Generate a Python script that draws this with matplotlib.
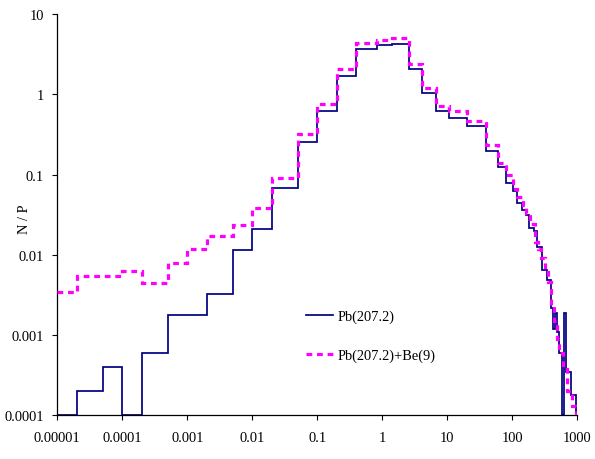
import matplotlib
matplotlib.use("Agg")
import matplotlib.pyplot as plt

# bin edges (x) and N/P values
pb_edges = [1e-5, 2e-5, 5e-5, 1e-4, 2e-4, 5e-4, 1e-3, 2e-3, 5e-3, 0.01, 0.02, 0.05,
            0.1, 0.2, 0.4, 0.82, 1.43, 2.55, 4.12, 6.6, 10.6, 20.4, 40, 61, 81, 103,
            119, 143, 161, 182, 218, 237, 289, 345, 394, 418, 458, 488, 525, 577,
            618, 663, 806, 938, 1000]
pb_vals = [1e-4, 2e-4, 4e-4, 1e-4, 6e-4, 1.8e-3, 1.8e-3, 3.2e-3, 0.0114, 0.021, 0.067,
           0.256, 0.61, 1.69, 3.63, 4.11, 4.27, 2.05, 1.04, 0.61, 0.51, 0.40, 0.194,
           0.123, 0.078, 0.062, 0.044, 0.036, 0.0316, 0.0214, 0.020, 0.0124, 0.0065,
           0.0048, 0.0022, 0.0012, 0.0019, 0.0011, 0.0006, 1e-4, 0.0019, 0.00035,
           0.00018, 1e-4]

pbbe_edges = [1e-5, 2e-5, 5e-5, 1e-4, 2e-4, 5e-4, 1e-3, 2e-3, 5e-3, 0.01, 0.02, 0.05,
              0.1, 0.2, 0.4, 0.82, 1.43, 2.55, 4.12, 6.6, 10.6, 20.4, 40, 61, 81, 103,
              119, 144, 165, 187, 220, 245, 280, 318, 358, 394, 440, 490, 530, 600,
              700, 820, 950, 1000]
pbbe_vals = [0.0034, 0.0054, 0.0055, 0.0062, 0.0045, 0.0079, 0.0118, 0.0173, 0.0235,
             0.038, 0.091, 0.317, 0.75, 2.05, 4.32, 4.74, 4.98, 2.41, 1.21, 0.72, 0.61,
             0.46, 0.233, 0.138, 0.10, 0.066, 0.052, 0.042, 0.033, 0.024, 0.0146,
             0.0118, 0.0091, 0.0067, 0.0046, 0.0023, 0.0015, 0.0009, 0.0006, 0.0004,
             0.0002, 0.00013, 1e-4]

xticks = [1e-5, 1e-4, 1e-3, 1e-2, 1e-1, 1, 10, 100, 1000]
xlabels = ["0.00001", "0.0001", "0.001", "0.01", "0.1", "1", "10", "100", "1000"]
yticks = [1e-4, 1e-3, 1e-2, 1e-1, 1, 10]
ylabels = ["0.0001", "0.001", "0.01", "0.1", "1", "10"]

plt.rcParams["font.family"] = ["Liberation Serif", "DejaVu Serif"]
plt.rcParams["font.size"] = 10.4

fig = plt.figure(figsize=(5.95, 4.6), dpi=100)
ax = fig.add_axes([0.0963, 0.095, 0.874, 0.8724])

ax.stairs(pb_vals, pb_edges, baseline=None, color="#000080", lw=1.25,
          label="Pb(207.2)", zorder=2)
ax.stairs(pbbe_vals, pbbe_edges, baseline=None, color="#ff00ff", lw=2.3,
          linestyle=(0, (1.8, 1.5)), label="Pb(207.2)+Be(9)", zorder=3)

ax.set_xscale("log")
ax.set_yscale("log")
ax.set_xlim(1e-5, 1000)
ax.set_ylim(1e-4, 10)
ax.set_xticks(xticks, xlabels)
ax.set_yticks(yticks, ylabels)
ax.minorticks_off()
ax.tick_params(direction="out", length=3.5, width=0.8, color="black")
ax.tick_params(axis="x", pad=8)
ax.tick_params(axis="y", pad=6)

for s in ["top", "right"]:
    ax.spines[s].set_visible(False)
for s in ["left", "bottom"]:
    ax.spines[s].set_linewidth(0.9)

ax.set_ylabel("N / P")
ax.yaxis.set_label_coords(-0.05, 0.49)

ax.legend(loc="upper left", bbox_to_anchor=(306 / 595, 1 - 311 / 460),
          bbox_transform=fig.transFigure, frameon=False, borderpad=0,
          borderaxespad=0, handlelength=1.9, handletextpad=0.3, labelspacing=1.75)

fig.savefig("out.png", dpi=100)
